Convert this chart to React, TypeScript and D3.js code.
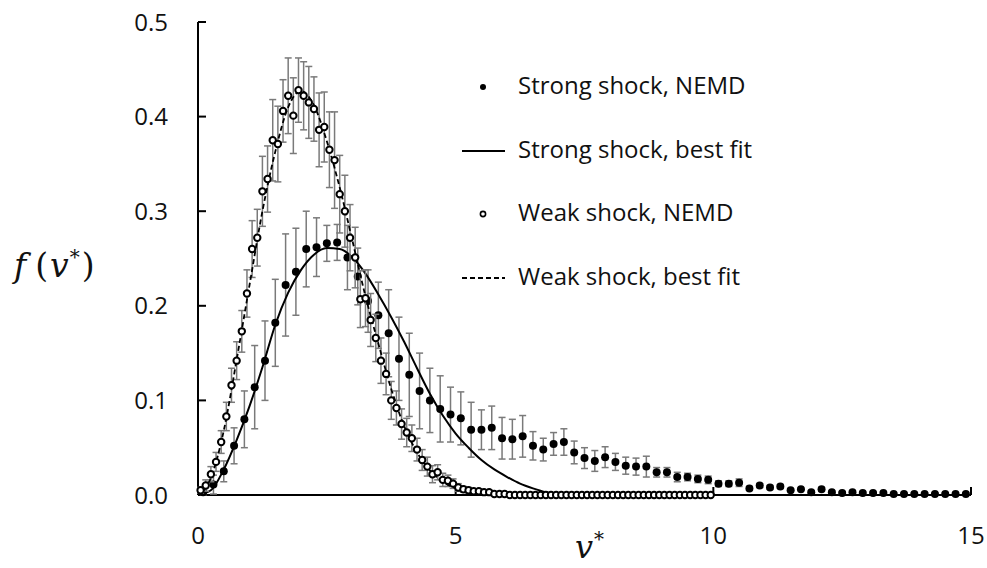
import React, { useRef, useEffect } from 'react';
import * as d3 from 'd3';

// bin centres (v*) and measured f(v*) for the two shocks
const strongV = [0.1, 0.3, 0.5, 0.7, 0.9, 1.1, 1.3, 1.5, 1.7, 1.9, 2.1, 2.3, 2.5, 2.7, 2.9, 3.1, 3.3, 3.5, 3.7, 3.9,
  4.1, 4.3, 4.5, 4.7, 4.9, 5.1, 5.3, 5.5, 5.7, 5.9, 6.1, 6.3, 6.5, 6.7, 6.9, 7.1, 7.3, 7.5, 7.7, 7.9,
  8.1, 8.3, 8.5, 8.7, 8.9, 9.1, 9.3, 9.5, 9.7, 9.9, 10.1, 10.3, 10.5, 10.7, 10.9, 11.1, 11.3, 11.5, 11.7, 11.9,
  12.1, 12.3, 12.5, 12.7, 12.9, 13.1, 13.3, 13.5, 13.7, 13.9, 14.1, 14.3, 14.5, 14.7, 14.9];
const strongF = [0.003, 0.011, 0.025, 0.052, 0.080, 0.114, 0.142, 0.182, 0.222, 0.236, 0.260, 0.262, 0.266, 0.267, 0.251, 0.231, 0.205, 0.190, 0.171, 0.144,
  0.127, 0.110, 0.100, 0.091, 0.085, 0.081, 0.069, 0.069, 0.071, 0.060, 0.059, 0.062, 0.052, 0.048, 0.054, 0.056, 0.045, 0.039, 0.036, 0.040,
  0.035, 0.031, 0.030, 0.030, 0.024, 0.024, 0.019, 0.019, 0.017, 0.016, 0.012, 0.012, 0.013, 0.007, 0.010, 0.008, 0.009, 0.005, 0.006, 0.003,
  0.006, 0.003, 0.002, 0.003, 0.002, 0.002, 0.002, 0.001, 0.001, 0.001, 0.001, 0.001, 0.001, 0.001, 0.001];
const strongErr = [0.003, 0.010, 0.011, 0.019, 0.030, 0.044, 0.042, 0.046, 0.054, 0.046, 0.040, 0.031, 0.019, 0.019, 0.034, 0.030, 0.033, 0.035, 0.046, 0.044,
  0.044, 0.040, 0.034, 0.035, 0.029, 0.028, 0.029, 0.021, 0.023, 0.022, 0.021, 0.022, 0.015, 0.012, 0.012, 0.014, 0.012, 0.011, 0.011, 0.011,
  0.009, 0.009, 0.009, 0.011, 0.005, 0.005, 0.005, 0.004, 0.004, 0.004, 0.003, 0.003, 0.004, 0.002, 0.002, 0.002, 0.002, 0.001, 0.001, 0.001,
  0.002, 0.001, 0.001, 0.001, 0.001, 0.001, 0.001, 0.001, 0.001, 0.001, 0.001, 0.001, 0.001, 0.001, 0.001];

const weakV = [0.05, 0.15, 0.25, 0.35, 0.45, 0.55, 0.65, 0.75, 0.85, 0.95, 1.05, 1.15, 1.25, 1.35, 1.45, 1.55, 1.65, 1.75, 1.85, 1.95,
  2.05, 2.15, 2.25, 2.35, 2.45, 2.55, 2.65, 2.75, 2.85, 2.95, 3.05, 3.15, 3.25, 3.35, 3.45, 3.55, 3.65, 3.75, 3.85, 3.95,
  4.05, 4.15, 4.25, 4.35, 4.45, 4.55, 4.65, 4.75, 4.85, 4.95, 5.05, 5.15, 5.25, 5.35, 5.45, 5.55, 5.65, 5.75, 5.85, 5.95,
  6.05, 6.15, 6.25, 6.35, 6.45, 6.55, 6.65, 6.75, 6.85, 6.95, 7.05, 7.15, 7.25, 7.35, 7.45, 7.55, 7.65, 7.75, 7.85, 7.95,
  8.05, 8.15, 8.25, 8.35, 8.45, 8.55, 8.65, 8.75, 8.85, 8.95, 9.05, 9.15, 9.25, 9.35, 9.45, 9.55, 9.65, 9.75, 9.85, 9.95];
const weakF = [0.005, 0.010, 0.022, 0.035, 0.056, 0.083, 0.116, 0.142, 0.173, 0.213, 0.260, 0.272, 0.321, 0.334, 0.375, 0.371, 0.406, 0.422, 0.401, 0.428,
  0.422, 0.415, 0.408, 0.386, 0.389, 0.365, 0.354, 0.318, 0.300, 0.272, 0.251, 0.207, 0.208, 0.185, 0.166, 0.142, 0.128, 0.100, 0.092, 0.075,
  0.066, 0.060, 0.048, 0.037, 0.030, 0.022, 0.024, 0.016, 0.015, 0.012, 0.008, 0.006, 0.005, 0.004, 0.004, 0.003, 0.003, 0.001, 0.001, 0.001,
  0, 0, 0, 0, 0, 0, 0, 0, 0, 0, 0, 0, 0, 0, 0, 0, 0, 0, 0, 0,
  0, 0, 0, 0, 0, 0, 0, 0, 0, 0, 0, 0, 0, 0, 0, 0, 0, 0, 0, 0];
const weakErr = [0.003, 0.006, 0.008, 0.010, 0.012, 0.015, 0.018, 0.020, 0.022, 0.025, 0.030, 0.030, 0.037, 0.035, 0.043, 0.040, 0.033, 0.040, 0.040, 0.034,
  0.036, 0.038, 0.034, 0.039, 0.037, 0.040, 0.051, 0.041, 0.038, 0.035, 0.032, 0.030, 0.030, 0.028, 0.025, 0.024, 0.022, 0.020, 0.018, 0.016,
  0.015, 0.014, 0.012, 0.011, 0.010, 0.009, 0.008, 0.007, 0.006, 0.005, 0.004, 0.003, 0.003, 0.002, 0.002, 0.002, 0.002, 0.001, 0.001, 0.001,
  0, 0, 0, 0, 0, 0, 0, 0, 0, 0, 0, 0, 0, 0, 0, 0, 0, 0, 0, 0,
  0, 0, 0, 0, 0, 0, 0, 0, 0, 0, 0, 0, 0, 0, 0, 0, 0, 0, 0, 0];

// best-fit curves
const strongFitV = [0, 0.25, 0.5, 0.75, 1, 1.25, 1.5, 1.75, 2, 2.25, 2.5, 2.75, 3, 3.25, 3.5, 3.75, 4, 4.25, 4.5, 4.75,
  5, 5.25, 5.5, 5.75, 6, 6.25, 6.5, 6.75, 7, 7.25, 7.5, 10];
const strongFitF = [0, 0.005, 0.027, 0.058, 0.094, 0.135, 0.180, 0.214, 0.238, 0.254, 0.261, 0.260, 0.251, 0.234, 0.212, 0.188, 0.162, 0.134, 0.107, 0.084,
  0.065, 0.050, 0.037, 0.027, 0.019, 0.012, 0.007, 0.003, 0.001, 0, 0, 0];
const weakFitV = [0, 0.25, 0.5, 0.75, 1, 1.25, 1.5, 1.75, 2, 2.25, 2.5, 2.75, 3, 3.25, 3.5, 3.75, 4, 4.25, 4.5, 4.75,
  5, 5.25, 5.5, 5.75, 6, 10];
const weakFitF = [0, 0.018, 0.068, 0.143, 0.222, 0.300, 0.363, 0.410, 0.427, 0.412, 0.374, 0.325, 0.268, 0.210, 0.160, 0.112, 0.073, 0.045, 0.026, 0.014,
  0.007, 0.003, 0.001, 0, 0, 0];

const xTicks = [0, 5, 10, 15];
const yTicks = [0, 0.1, 0.2, 0.3, 0.4, 0.5];
const legendLabels = ['Strong shock, NEMD', 'Strong shock, best fit', 'Weak shock, NEMD', 'Weak shock, best fit'];

const W = 987, H = 568;
const FONT = '"Open Sans", sans-serif';
const SERIF = '"DejaVu Serif", serif';
const GREY = '#7a7a7a';

export default function App() {
  const svgRef = useRef<SVGSVGElement>(null);

  useEffect(() => {
    const svg = d3.select(svgRef.current as SVGSVGElement);
    svg.selectAll('*').remove();

    const x = d3.scaleLinear().domain([0, 15]).range([198, 971]);
    const y = d3.scaleLinear().domain([0, 0.5]).range([495, 22]);

    // axes (ticks point inward)
    const ax = svg.append('g').attr('stroke', '#000').attr('stroke-width', 2);
    ax.append('line').attr('x1', x(0)).attr('x2', x(0)).attr('y1', y(0.5)).attr('y2', y(0));
    ax.append('line').attr('x1', x(0)).attr('x2', x(15)).attr('y1', y(0)).attr('y2', y(0));
    yTicks.slice(1).forEach(t => {
      ax.append('line').attr('x1', x(0)).attr('x2', x(0) + 8).attr('y1', y(t)).attr('y2', y(t));
    });
    xTicks.slice(1).forEach(t => {
      ax.append('line').attr('x1', x(t)).attr('x2', x(t)).attr('y1', y(0)).attr('y2', y(0) - 8);
    });

    yTicks.forEach(t => {
      svg.append('text').attr('x', 168).attr('y', y(t) + 8.5)
        .attr('text-anchor', 'end').attr('font-family', FONT).attr('font-size', 24).attr('fill', '#111')
        .text(d3.format('.1f')(t));
    });
    xTicks.forEach(t => {
      svg.append('text').attr('x', x(t)).attr('y', 544)
        .attr('text-anchor', 'middle').attr('font-family', FONT).attr('font-size', 24).attr('fill', '#111')
        .text(t);
    });

    // axis titles
    const yt = svg.append('text').attr('x', 14).attr('y', 277)
      .attr('font-family', SERIF).attr('font-size', 33).attr('fill', '#111');
    yt.append('tspan').attr('font-style', 'italic').text('f');
    yt.append('tspan').attr('dx', 9).text('(');
    yt.append('tspan').attr('dx', 2).attr('font-style', 'italic').text('v');
    yt.append('tspan').attr('dx', 1).attr('dy', -13).attr('font-size', 20).text('*');
    yt.append('tspan').attr('dx', 2).attr('dy', 13).text(')');
    const xt = svg.append('text').attr('x', 575).attr('y', 558)
      .attr('font-family', SERIF).attr('font-size', 32).attr('fill', '#111');
    xt.append('tspan').attr('font-style', 'italic').text('v');
    xt.append('tspan').attr('dx', 1).attr('dy', -12).attr('font-size', 20).text('*');

    const bars = (vs: number[], fs: number[], es: number[]) => {
      const g = svg.append('g').attr('stroke', GREY).attr('stroke-width', 1.5);
      vs.forEach((v, i) => {
        if (!es[i]) return;
        const cx = x(v), lo = y(Math.max(0, fs[i] - es[i])), hi = y(fs[i] + es[i]);
        g.append('line').attr('x1', cx).attr('x2', cx).attr('y1', lo).attr('y2', hi);
        g.append('line').attr('x1', cx - 3.5).attr('x2', cx + 3.5).attr('y1', lo).attr('y2', lo);
        g.append('line').attr('x1', cx - 3.5).attr('x2', cx + 3.5).attr('y1', hi).attr('y2', hi);
      });
    };

    const line = d3.line<number>().curve(d3.curveMonotoneX);

    // strong shock
    bars(strongV, strongF, strongErr);
    svg.append('g').selectAll('circle').data(strongV).join('circle')
      .attr('cx', d => x(d)).attr('cy', (d, i) => y(strongF[i])).attr('r', 4).attr('fill', '#000');
    svg.append('path')
      .attr('d', line.x(d => x(d)).y((d, i) => y(strongFitF[i]))(strongFitV) as string)
      .attr('fill', 'none').attr('stroke', '#000').attr('stroke-width', 2);

    // weak shock
    bars(weakV, weakF, weakErr);
    svg.append('path')
      .attr('d', line.x(d => x(d)).y((d, i) => y(weakFitF[i]))(weakFitV) as string)
      .attr('fill', 'none').attr('stroke', '#000').attr('stroke-width', 1.8).attr('stroke-dasharray', '5,3');
    svg.append('g').selectAll('circle').data(weakV).join('circle')
      .attr('cx', d => x(d)).attr('cy', (d, i) => y(weakF[i])).attr('r', 3.2)
      .attr('fill', '#fff').attr('stroke', '#000').attr('stroke-width', 2);

    // legend
    const rows = [87, 151, 214, 278];
    const lg = svg.append('g');
    lg.append('circle').attr('cx', 483).attr('cy', rows[0]).attr('r', 3).attr('fill', '#000');
    lg.append('line').attr('x1', 462).attr('x2', 505).attr('y1', rows[1]).attr('y2', rows[1])
      .attr('stroke', '#000').attr('stroke-width', 2);
    lg.append('circle').attr('cx', 483).attr('cy', rows[2]).attr('r', 2.6)
      .attr('fill', '#fff').attr('stroke', '#000').attr('stroke-width', 1.6);
    lg.append('line').attr('x1', 462).attr('x2', 505).attr('y1', rows[3]).attr('y2', rows[3])
      .attr('stroke', '#000').attr('stroke-width', 1.8).attr('stroke-dasharray', '5,3');
    legendLabels.forEach((t, i) => {
      lg.append('text').attr('x', 518).attr('y', rows[i] + 7)
        .attr('font-family', FONT).attr('font-size', 24).attr('fill', '#111').text(t);
    });
  }, []);

  return <svg ref={svgRef} width={W} height={H} style={{ position: 'absolute', left: 0, top: 0, background: '#fff' }} />;
}
